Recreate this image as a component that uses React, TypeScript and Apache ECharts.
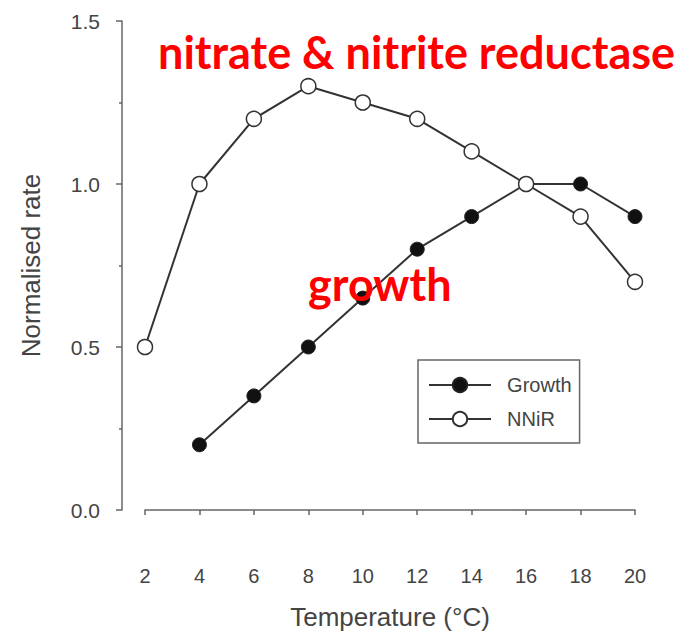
import React, { useEffect, useRef } from "react";
import * as echarts from "echarts";

const temps = [2, 4, 6, 8, 10, 12, 14, 16, 18, 20];
const growthTemps = [4, 6, 8, 10, 12, 14, 16, 18, 20];
const growthValues = [0.2, 0.35, 0.5, 0.65, 0.8, 0.9, 1.0, 1.0, 0.9];
const nnirValues = [0.5, 1.0, 1.2, 1.3, 1.25, 1.2, 1.1, 1.0, 0.9, 0.7];
const seriesNames = ["Growth", "NNiR"];
const annotationTop = "nitrate & nitrite reductase";
const annotationGrowth = "growth";

const axisColor = "#666";
const textColor = "#444";
const lineColor = "#333";

export default function App() {
  const ref = useRef<HTMLDivElement>(null);
  useEffect(() => {
    if (!ref.current) return;
    const chart = echarts.init(ref.current, undefined, { renderer: "svg" });
    const labelFont = "Liberation Sans";
    chart.setOption({
      animation: false,
      backgroundColor: "#fff",
      grid: { left: 145, right: 54, top: 21, bottom: 128 },
      xAxis: {
        type: "value",
        min: 2,
        max: 20,
        interval: 2,
        offset: 30,
        name: "Temperature (°C)",
        nameLocation: "middle",
        nameGap: 64,
        nameTextStyle: { fontSize: 26, color: textColor, fontFamily: labelFont },
        axisLine: { show: true, lineStyle: { color: axisColor, width: 1.5 } },
        axisTick: { show: true, length: 5, lineStyle: { color: axisColor, width: 1.5 } },
        axisLabel: { margin: 26, fontSize: 20, color: textColor, fontFamily: labelFont },
        splitLine: { show: false },
      },
      yAxis: {
        type: "value",
        min: 0,
        max: 1.5,
        interval: 0.5,
        offset: 23,
        name: "Normalised rate",
        nameLocation: "middle",
        nameGap: 78,
        nameRotate: 90,
        nameTextStyle: { fontSize: 26, color: textColor, fontFamily: labelFont },
        axisLine: { show: true, lineStyle: { color: axisColor, width: 1.5 } },
        axisTick: { show: true, length: 6, lineStyle: { color: axisColor, width: 1.5 } },
        minorTick: { show: true, splitNumber: 2, length: 3, lineStyle: { color: axisColor, width: 1.5 } },
        axisLabel: {
          margin: 22,
          fontSize: 21,
          color: textColor,
          fontFamily: labelFont,
          formatter: (v: number) => v.toFixed(1),
        },
        splitLine: { show: false },
      },
      legend: {
        orient: "vertical",
        left: 418,
        top: 360,
        itemWidth: 62,
        itemHeight: 18,
        itemGap: 14,
        padding: [15, 8, 14, 10],
        borderColor: axisColor,
        borderWidth: 1.5,
        formatter: (name: string) => "  " + name,
        textStyle: { fontSize: 20, color: textColor, fontFamily: labelFont },
        data: seriesNames,
      },
      series: [
        {
          name: seriesNames[0],
          type: "line",
          data: growthTemps.map((t, i) => [t, growthValues[i]]),
          symbol: "circle",
          symbolSize: 14,
          itemStyle: { color: "#111", borderColor: "#222", borderWidth: 1 },
          lineStyle: { color: lineColor, width: 2 },
          z: 2,
        },
        {
          name: seriesNames[1],
          type: "line",
          data: temps.map((t, i) => [t, nnirValues[i]]),
          symbol: "circle",
          symbolSize: 15,
          itemStyle: { color: "#fff", borderColor: lineColor, borderWidth: 1.5 },
          lineStyle: { color: lineColor, width: 2 },
          z: 3,
        },
      ],
      graphic: [
        {
          type: "text",
          x: 158,
          y: 52,
          z: 100,
          style: {
            text: annotationTop,
            font: "bold 45px Lato",
            fill: "#ff0000",
            align: "left",
            verticalAlign: "middle",
          },
        },
        {
          type: "text",
          x: 308,
          y: 284,
          z: 100,
          style: {
            text: annotationGrowth,
            font: "bold 45px Lato",
            fill: "#ff0000",
            align: "left",
            verticalAlign: "middle",
          },
        },
      ],
    });
    return () => chart.dispose();
  }, []);
  return (
    <div
      ref={ref}
      style={{ position: "absolute", left: 0, top: 0, width: 689, height: 638 }}
    />
  );
}
